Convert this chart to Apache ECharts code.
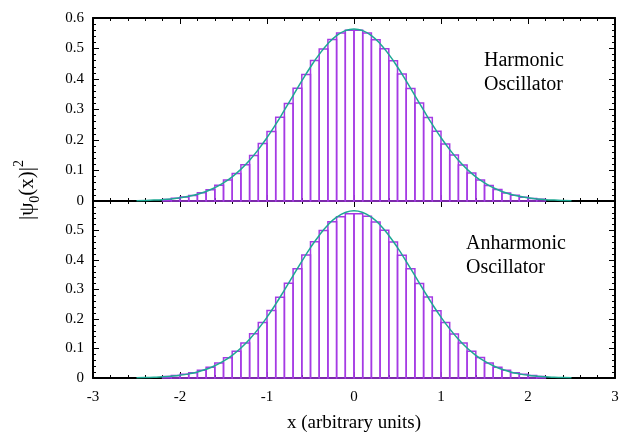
<!DOCTYPE html>
<html><head><meta charset="utf-8">
<script src="https://cdn.jsdelivr.net/npm/echarts@6/dist/echarts.min.js"></script>
<style>html,body{margin:0;padding:0;background:#fff}#c{width:628px;height:434px}</style>
</head><body><div id="c"></div>
<script>
// ---- data ----
const xTicks = [-3, -2, -1, 0, 1, 2, 3];
const yTicks = [0, 0.1, 0.2, 0.3, 0.4, 0.5, 0.6];
const binWidth = 0.1;
const binCenters = [-2.15,-2.05,-1.95,-1.85,-1.75,-1.65,-1.55,-1.45,-1.35,-1.25,-1.15,-1.05,-0.95,-0.85,-0.75,-0.65,-0.55,-0.45,-0.35,-0.25,-0.15,-0.05,
                     0.05,0.15,0.25,0.35,0.45,0.55,0.65,0.75,0.85,0.95,1.05,1.15,1.25,1.35,1.45,1.55,1.65,1.75,1.85,1.95,2.05,2.15];
const harmonicHist = [0.0052,0.0088,0.0130,0.0180,0.0268,0.0365,0.0515,0.0690,0.0905,0.1190,0.1495,0.1885,0.2280,0.2745,0.3200,0.3695,0.4150,0.4610,0.4985,0.5295,0.5505,0.5595,
                      0.5600,0.5510,0.5290,0.4995,0.4600,0.4165,0.3690,0.3210,0.2735,0.2290,0.1870,0.1510,0.1180,0.0915,0.0685,0.0508,0.0375,0.0260,0.0186,0.0124,0.0086,0.0054];
const anharmonicHist = [0.0050,0.0082,0.0125,0.0178,0.0262,0.0362,0.0508,0.0690,0.0910,0.1190,0.1500,0.1880,0.2285,0.2740,0.3215,0.3705,0.4170,0.4620,0.5000,0.5300,0.5470,0.5570,
                        0.5570,0.5480,0.5290,0.5005,0.4610,0.4165,0.3700,0.3205,0.2745,0.2280,0.1885,0.1495,0.1185,0.0905,0.0695,0.0505,0.0368,0.0265,0.0180,0.0128,0.0084,0.0052];
const curveX = [-2.5,-2.4,-2.3,-2.2,-2.1,-2.0,-1.9,-1.8,-1.7,-1.6,-1.5,-1.4,-1.3,-1.2,-1.1,-1.0,-0.9,-0.8,-0.7,-0.6,-0.5,-0.4,-0.3,-0.2,-0.1,0,
                0.1,0.2,0.3,0.4,0.5,0.6,0.7,0.8,0.9,1.0,1.1,1.2,1.3,1.4,1.5,1.6,1.7,1.8,1.9,2.0,2.1,2.2,2.3,2.4,2.5];
const harmonicCurve = [0.0011,0.0018,0.0029,0.0045,0.0069,0.0103,0.0153,0.0221,0.0313,0.0436,0.0595,0.0793,0.1042,0.1337,0.1685,0.2076,0.2510,0.2978,0.3455,0.3936,0.4394,0.4806,0.5157,0.5421,0.5586,0.5642,
                       0.5586,0.5421,0.5157,0.4806,0.4394,0.3936,0.3455,0.2978,0.2510,0.2076,0.1685,0.1337,0.1042,0.0793,0.0595,0.0436,0.0313,0.0221,0.0153,0.0103,0.0069,0.0045,0.0029,0.0018,0.0011];
const anharmonicCurve = [0.0009,0.0015,0.0025,0.0039,0.0061,0.0093,0.0140,0.0205,0.0295,0.0415,0.0572,0.0770,0.1018,0.1315,0.1666,0.2063,0.2504,0.2982,0.3468,0.3955,0.4418,0.4833,0.5185,0.5450,0.5612,0.5670,
                         0.5612,0.5450,0.5185,0.4833,0.4418,0.3955,0.3468,0.2982,0.2504,0.2063,0.1666,0.1315,0.1018,0.0770,0.0572,0.0415,0.0295,0.0205,0.0140,0.0093,0.0061,0.0039,0.0025,0.0015,0.0009];
const panelLabels = ['Harmonic\nOscillator', 'Anharmonic\nOscillator'];
const xTitle = 'x (arbitrary units)';

// ---- chart ----
const FONT = 'Liberation Serif';
const BLACK = '#000';
const HIST = '#a53ae4';
const CURVE = '#1ea994';

const chart = echarts.init(document.getElementById('c'), null, {renderer: 'canvas'});

const grids = [
  {left: 93, width: 522, top: 18, height: 183},
  {left: 93, width: 522, top: 201, height: 183}
];

function xAxisDef(g, pos, showLabel) {
  return {
    type: 'value', gridIndex: g, position: pos,
    min: xTicks[0], max: xTicks[xTicks.length - 1], interval: 1,
    axisLine: {show: true, onZero: false, lineStyle: {color: BLACK, width: 2}},
    axisTick: {show: true, inside: true, length: 6, lineStyle: {color: BLACK, width: 1}},
    minorTick: {show: true, splitNumber: 5, length: 3, lineStyle: {color: BLACK, width: 1}},
    axisLabel: {show: showLabel, color: BLACK, fontFamily: FONT, fontSize: 15, margin: 12},
    splitLine: {show: false}, minorSplitLine: {show: false},
    name: showLabel ? xTitle : '', nameLocation: 'middle', nameGap: 36,
    nameTextStyle: {color: BLACK, fontFamily: FONT, fontSize: 19}
  };
}
function yAxisDef(g, pos, showLabel, hideTop) {
  return {
    type: 'value', gridIndex: g, position: pos,
    min: yTicks[0], max: yTicks[yTicks.length - 1], interval: 0.1,
    axisLine: {show: true, onZero: false, lineStyle: {color: BLACK, width: 2}},
    axisTick: {show: true, inside: true, length: 6, lineStyle: {color: BLACK, width: 1}},
    minorTick: {show: true, splitNumber: 5, length: 3, lineStyle: {color: BLACK, width: 1}},
    axisLabel: {show: showLabel, color: BLACK, fontFamily: FONT, fontSize: 15, margin: 9,
      formatter: v => (hideTop && Math.abs(v - 0.6) < 1e-9) ? '' : String(Math.round(v * 10) / 10)},
    splitLine: {show: false}, minorSplitLine: {show: false}
  };
}

function histItem(params, api) {
  const c = api.value(0), h = api.value(1);
  const p1 = api.coord([c - binWidth / 2, h]);
  const p2 = api.coord([c + binWidth / 2, 0]);
  return {
    type: 'rect',
    shape: {x: p1[0], y: p1[1], width: p2[0] - p1[0], height: p2[1] - p1[1]},
    style: {fill: 'none', stroke: HIST, lineWidth: 1.5}
  };
}

const histData = [binCenters.map((c, i) => [c, harmonicHist[i]]), binCenters.map((c, i) => [c, anharmonicHist[i]])];
const curveData = [curveX.map((x, i) => [x, harmonicCurve[i]]), curveX.map((x, i) => [x, anharmonicCurve[i]])];

const series = [];
[0, 1].forEach(g => {
  series.push({
    type: 'custom', xAxisIndex: g * 2, yAxisIndex: g * 2, renderItem: histItem,
    data: histData[g], encode: {x: 0, y: 1}, silent: true, z: 2
  });
  series.push({
    type: 'line', xAxisIndex: g * 2, yAxisIndex: g * 2, data: curveData[g],
    smooth: true, showSymbol: false, symbol: 'none', silent: true, z: 3,
    lineStyle: {color: CURVE, width: 1.5}
  });
});

const option = {
  animation: false,
  backgroundColor: '#fff',
  grid: grids,
  xAxis: [xAxisDef(0, 'bottom', false), xAxisDef(0, 'top', false), xAxisDef(1, 'bottom', true), xAxisDef(1, 'top', false)],
  yAxis: [yAxisDef(0, 'left', true, false), yAxisDef(0, 'right', false, false), yAxisDef(1, 'left', true, true), yAxisDef(1, 'right', false, false)],
  series: series,
  graphic: [
    {type: 'text', left: 484, top: 49, style: {text: panelLabels[0], fill: BLACK, font: '20px "Liberation Serif"', lineHeight: 24}},
    {type: 'text', left: 466, top: 232, style: {text: panelLabels[1], fill: BLACK, font: '20px "Liberation Serif"', lineHeight: 24}},
    {type: 'text', x: 27, y: 190, rotation: Math.PI / 2,
     style: {text: '{n||ψ}{s|0}{n|(x)|}{p|2}', align: 'center', verticalAlign: 'middle', fill: BLACK,
       rich: {
         n: {fontFamily: FONT, fontSize: 21, lineHeight: 30, fill: BLACK, verticalAlign: 'middle'},
         s: {fontFamily: FONT, fontSize: 14, lineHeight: 30, fill: BLACK, verticalAlign: 'bottom'},
         p: {fontFamily: FONT, fontSize: 14, lineHeight: 30, fill: BLACK, verticalAlign: 'top'}
       }}}
  ]
};
chart.setOption(option);
</script>
</body></html>
